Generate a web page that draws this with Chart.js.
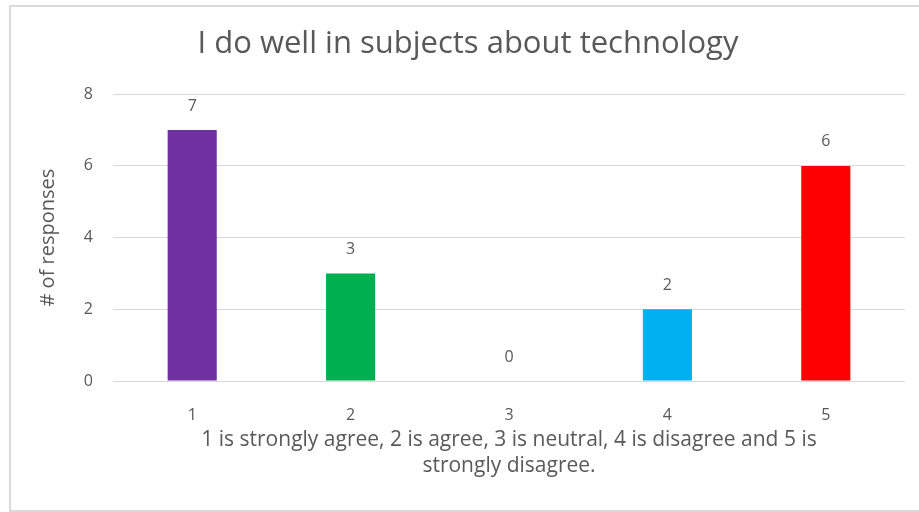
<!DOCTYPE html>
<html>
<head>
<meta charset="utf-8">
<script src="https://cdn.jsdelivr.net/npm/chart.js@4/dist/chart.umd.min.js"></script>
<style>
  body { margin: 0; background: #fff; }
  #frame { position: absolute; left: 9px; top: 5px; width: 930px; height: 503px; border: 2px solid #d9d9d9; }
  #wrap { position: absolute; left: 0; top: 0; width: 919px; height: 512px; }
</style>
</head>
<body>
<div id="frame"></div>
<div id="wrap"><canvas id="myChart"></canvas></div>
<script>
const xValues = ["1", "2", "3", "4", "5"];
const yValues = [7, 3, 0, 2, 6];
const barColors = ["#7030a0", "#00b050", "#7f7f7f", "#00b0f0", "#ff0000"];
const yTicks = [0, 2, 4, 6, 8];

const textColor = "#595959";
const fontFamily = "'Open Sans', Lato, sans-serif";

// value labels above each bar
const barLabels = {
  id: "barLabels",
  afterDatasetsDraw(chart) {
    const ctx = chart.ctx;
    const meta = chart.getDatasetMeta(0);
    ctx.save();
    ctx.font = "16px " + fontFamily;
    ctx.fillStyle = textColor;
    ctx.textAlign = "center";
    ctx.textBaseline = "middle";
    meta.data.forEach((bar, i) => {
      ctx.fillText(String(yValues[i]), bar.x, bar.y - 24);
    });
    ctx.restore();
  }
};

const ctx = document.getElementById('myChart');

new Chart(ctx, {
  type: "bar",
  data: {
    labels: xValues,
    datasets: [{
      backgroundColor: barColors,
      data: yValues,
      barPercentage: 0.31,
      categoryPercentage: 1
    }]
  },
  options: {
    responsive: true,
    maintainAspectRatio: false,
    animation: false,
    layout: {padding: {left: 31, right: 14, top: 0, bottom: 21}},
    plugins: {
      legend: {display: false},
      tooltip: {enabled: false},
      title: {
        display: true,
        text: "I do well in subjects about technology",
        color: textColor,
        font: {size: 31, family: fontFamily, weight: "normal", lineHeight: 1.2},
        padding: {top: 26, bottom: 31}
      }
    },
    scales: {
      x: {
        grid: {display: false},
        border: {display: false},
        ticks: {color: textColor, padding: 17, font: {size: 16, family: fontFamily}},
        title: {
          display: true,
          text: ["1 is strongly agree, 2 is agree, 3 is neutral, 4 is disagree and 5 is", "strongly disagree."],
          color: textColor,
          font: {size: 21, family: fontFamily, lineHeight: 1.24},
          padding: {top: 0, bottom: 12}
        },
        afterFit(scale) { scale.height = 110; }
      },
      y: {
        min: 0,
        max: 8,
        afterBuildTicks(scale) { scale.ticks = yTicks.map(v => ({value: v})); },
        grid: {color: "#d9d9d9", drawTicks: false},
        border: {display: false},
        ticks: {color: textColor, padding: 20, font: {size: 16, family: fontFamily}},
        title: {
          display: true,
          text: "# of responses",
          color: textColor,
          font: {size: 20, family: fontFamily},
          padding: {top: 5, bottom: 0}
        },
        afterFit(scale) { scale.width = 82; }
      }
    }
  },
  plugins: [barLabels]
});
</script>
</body>
</html>
